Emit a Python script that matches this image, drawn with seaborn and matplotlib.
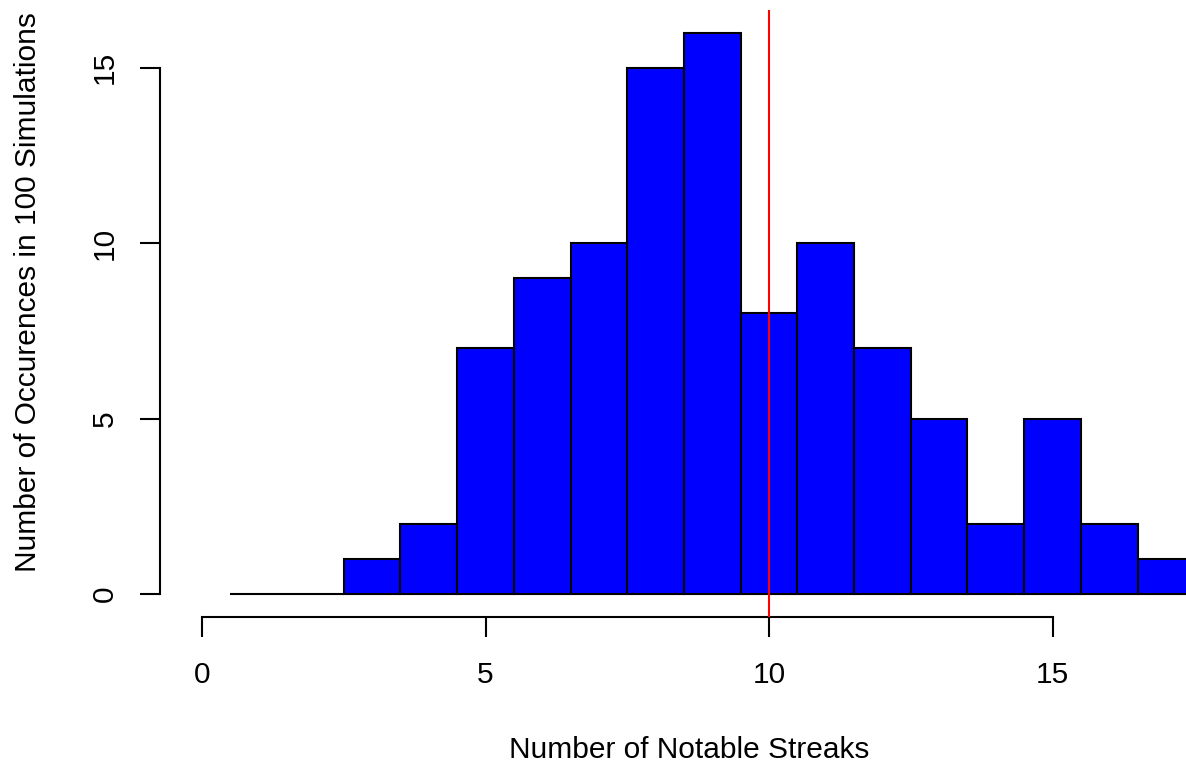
import numpy as np
import pandas as pd
import matplotlib
matplotlib.use("Agg")
import matplotlib.pyplot as plt
import seaborn as sns

# Histogram data: number of notable streaks per simulation (bin centers) and counts
streaks = [1, 2, 3, 4, 5, 6, 7, 8, 9, 10, 11, 12, 13, 14, 15, 16, 17]
occurrences = [0, 0, 1, 2, 7, 9, 10, 15, 16, 8, 10, 7, 5, 2, 5, 2, 1]
bin_edges = [0.5 + i for i in range(18)]
observed_value = 10
x_ticks = [0, 5, 10, 15]
y_ticks = [0, 5, 10, 15]

df = pd.DataFrame({"streaks": streaks, "occurrences": occurrences})

sns.set_style("white")
plt.rcParams["font.family"] = ["Liberation Sans", "DejaVu Sans"]

FS = 21.5
W, H = 1186, 764
fig = plt.figure(figsize=(W / 100, H / 100), dpi=100)
left, right, top, bottom = 160, 1186, 10, 617
ax = fig.add_axes([left / W, 1 - bottom / H, (right - left) / W, (bottom - top) / H])

sns.histplot(data=df, x="streaks", weights="occurrences", bins=bin_edges,
             color="#0000FF", edgecolor="black", linewidth=1.5, alpha=1, ax=ax)

ax.axvline(observed_value, color="#FF0000", linewidth=1.5, zorder=5)

px_per_unit = (1052.5 - 202) / 15.0
ax.set_xlim(-(202 - left) / px_per_unit, (right - 202) / px_per_unit)
ax.set_ylim(-0.656, 16.65)

ax.set_xticks(x_ticks)
ax.set_yticks(y_ticks)
ax.set_xticklabels([str(t) for t in x_ticks])
ax.set_yticklabels([str(t) for t in y_ticks], rotation=90, va="center")

for side in ["top", "right"]:
    ax.spines[side].set_visible(False)
for side in ["left", "bottom"]:
    ax.spines[side].set_visible(True)
    ax.spines[side].set_color("black")
    ax.spines[side].set_linewidth(1.5)
    ax.spines[side].set_bounds(0, 15)

ax.tick_params(axis="both", which="major", direction="out", length=14.4, width=1.5,
               color="black", labelsize=FS, labelcolor="black",
               bottom=True, left=True)
ax.tick_params(axis="x", pad=17)
ax.tick_params(axis="y", pad=15)

ax.set_xlabel("Number of Notable Streaks", fontsize=FS, color="black")
ax.set_ylabel("Number of Occurences in 100 Simulations", fontsize=FS, color="black")
ax.xaxis.set_label_coords((689 - left) / (right - left), -(750 - bottom) / (bottom - top))
ax.xaxis.label.set_va("center")
ax.yaxis.set_label_coords(-(left - 28) / (right - left), (bottom - 292) / (bottom - top))
ax.yaxis.label.set_va("center")
ax.grid(False)

fig.savefig("out.png", dpi=100, facecolor="white")
